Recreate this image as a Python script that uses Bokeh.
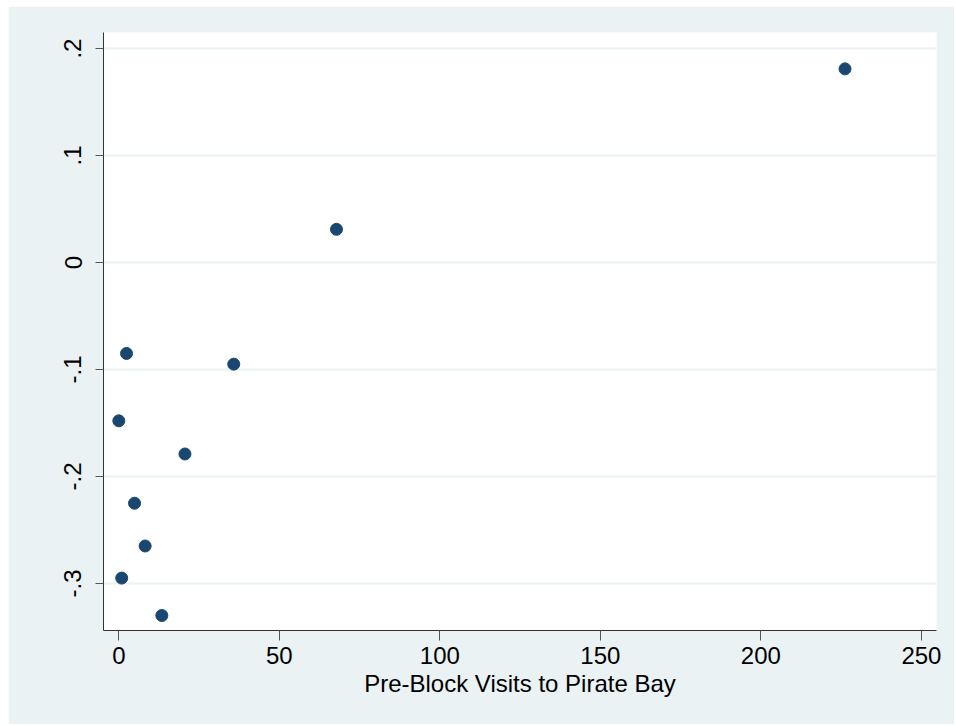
from bokeh.plotting import figure
from bokeh.models import Range1d, FixedTicker, Spacer
from bokeh.layouts import column, row
from bokeh.embed import file_html
from bokeh.resources import INLINE

# Data
visits = [226.2, 67.8, 2.4, 35.8, 0.0, 20.6, 4.9, 8.2, 0.9, 13.4]
effect = [0.181, 0.031, -0.085, -0.095, -0.148, -0.179, -0.225, -0.265, -0.295, -0.330]

x_ticks = [0, 50, 100, 150, 200, 250]
y_ticks = [-0.3, -0.2, -0.1, 0.0, 0.1, 0.2]
y_tick_labels = ["-.3", "-.2", "-.1", "0", ".1", ".2"]

BG = "#EAF2F3"
NAVY = "#1A476F"
FONT = "Liberation Sans"

p = figure(width=946, height=718, output_backend="svg", toolbar_location=None,
           x_range=Range1d(-4.77, 254.7), y_range=Range1d(-0.344, 0.215),
           min_border_left=95, min_border_right=18, min_border_top=26, min_border_bottom=94)

p.border_fill_color = BG
p.background_fill_color = "white"
p.outline_line_color = None

p.scatter(visits, effect, size=12, fill_color=NAVY, line_color=NAVY)

# grid
p.xgrid.visible = False
p.ygrid.ticker = FixedTicker(ticks=y_ticks)
p.ygrid.grid_line_color = BG
p.ygrid.grid_line_width = 2

# x axis
xa = p.xaxis[0]
xa.ticker = FixedTicker(ticks=x_ticks)
xa.axis_label = "Pre-Block Visits to Pirate Bay"
xa.axis_label_text_font = FONT
xa.axis_label_text_font_size = "24px"
xa.axis_label_text_font_style = "normal"
xa.axis_label_text_color = "black"
xa.axis_label_standoff = 3
xa.major_label_text_font = FONT
xa.major_label_text_font_size = "24px"
xa.major_label_text_color = "black"
xa.major_label_standoff = 6
xa.major_tick_out = 10
xa.major_tick_in = 0
xa.minor_tick_out = 0
xa.minor_tick_in = 0
xa.axis_line_color = "#333333"
xa.major_tick_line_color = "#555555"

# y axis
ya = p.yaxis[0]
ya.ticker = FixedTicker(ticks=y_ticks)
ya.major_label_overrides = {t: l for t, l in zip(y_ticks, y_tick_labels)}
ya.major_label_orientation = "vertical"
ya.major_label_text_font = FONT
ya.major_label_text_font_size = "24px"
ya.major_label_text_color = "black"
ya.major_label_standoff = 14
ya.major_tick_out = 8
ya.major_tick_in = 0
ya.minor_tick_out = 0
ya.minor_tick_in = 0
ya.axis_line_color = "#333333"
ya.major_tick_line_color = "#555555"

layout = column(Spacer(height=6), row(Spacer(width=8), p))

open("out.html", "w").write(file_html(layout, INLINE))
